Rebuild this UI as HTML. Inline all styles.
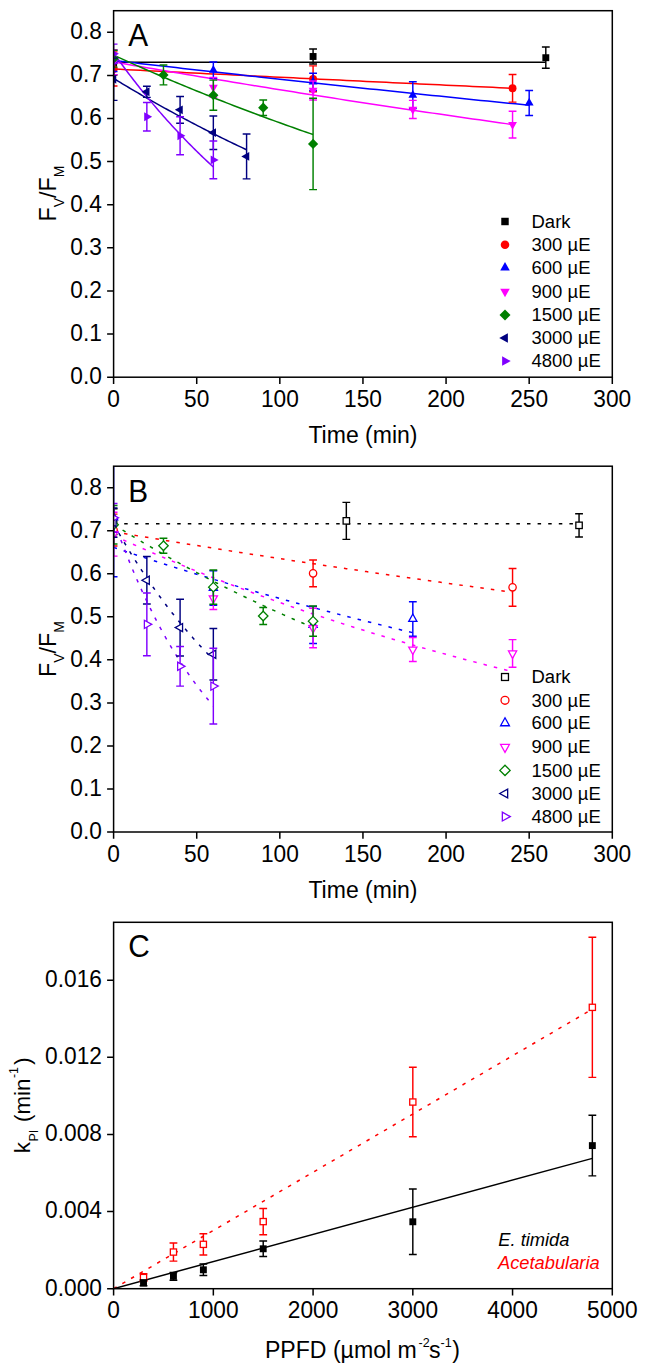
<!DOCTYPE html>
<html><head><meta charset="utf-8"><title>Photoinhibition kinetics</title>
<style>html,body{margin:0;padding:0;background:#fff;}body{width:646px;height:1371px;overflow:hidden;font-family:"Liberation Sans",sans-serif;}svg{display:block;}</style>
</head><body>
<svg width="646" height="1371" viewBox="0 0 646 1371" font-family="Liberation Sans, sans-serif">
<defs><clipPath id="clipA"><rect x="113.6" y="10.7" width="498.70" height="366.50"/></clipPath><clipPath id="clipB"><rect x="113.6" y="466.2" width="498.70" height="365.80"/></clipPath><clipPath id="clipC"><rect x="113.6" y="922.3" width="498.70" height="366.40"/></clipPath></defs>
<rect width="646" height="1371" fill="#fff"/>
<path d="M107.10,377.20H113.60M107.10,334.08H113.60M107.10,290.96H113.60M107.10,247.85H113.60M107.10,204.73H113.60M107.10,161.61H113.60M107.10,118.49H113.60M107.10,75.38H113.60M107.10,32.26H113.60M113.60,377.20V383.90M196.72,377.20V383.90M279.83,377.20V383.90M362.95,377.20V383.90M446.07,377.20V383.90M529.18,377.20V383.90M612.30,377.20V383.90" stroke="#000" stroke-width="1.5" fill="none"/>
<text transform="translate(101.9,384.12) scale(1,1.03)" text-anchor="end" font-size="22.7">0.0</text>
<text transform="translate(101.9,341.00) scale(1,1.03)" text-anchor="end" font-size="22.7">0.1</text>
<text transform="translate(101.9,297.88) scale(1,1.03)" text-anchor="end" font-size="22.7">0.2</text>
<text transform="translate(101.9,254.76) scale(1,1.03)" text-anchor="end" font-size="22.7">0.3</text>
<text transform="translate(101.9,211.65) scale(1,1.03)" text-anchor="end" font-size="22.7">0.4</text>
<text transform="translate(101.9,168.53) scale(1,1.03)" text-anchor="end" font-size="22.7">0.5</text>
<text transform="translate(101.9,125.41) scale(1,1.03)" text-anchor="end" font-size="22.7">0.6</text>
<text transform="translate(101.9,82.29) scale(1,1.03)" text-anchor="end" font-size="22.7">0.7</text>
<text transform="translate(101.9,39.18) scale(1,1.03)" text-anchor="end" font-size="22.7">0.8</text>
<text transform="translate(113.60,406.82) scale(1,1.03)" text-anchor="middle" font-size="22.7">0</text>
<text transform="translate(196.72,406.82) scale(1,1.03)" text-anchor="middle" font-size="22.7">50</text>
<text transform="translate(279.83,406.82) scale(1,1.03)" text-anchor="middle" font-size="22.7">100</text>
<text transform="translate(362.95,406.82) scale(1,1.03)" text-anchor="middle" font-size="22.7">150</text>
<text transform="translate(446.07,406.82) scale(1,1.03)" text-anchor="middle" font-size="22.7">200</text>
<text transform="translate(529.18,406.82) scale(1,1.03)" text-anchor="middle" font-size="22.7">250</text>
<text transform="translate(612.30,406.82) scale(1,1.03)" text-anchor="middle" font-size="22.7">300</text>
<g clip-path="url(#clipA)">
<path d="M113.60,62.35 L120.80,62.35 L128.01,62.35 L135.21,62.35 L142.41,62.35 L149.62,62.35 L156.82,62.35 L164.02,62.35 L171.23,62.35 L178.43,62.35 L185.63,62.35 L192.84,62.35 L200.04,62.35 L207.24,62.35 L214.45,62.35 L221.65,62.35 L228.86,62.35 L236.06,62.35 L243.26,62.35 L250.47,62.35 L257.67,62.35 L264.87,62.35 L272.08,62.35 L279.28,62.35 L286.48,62.35 L293.69,62.35 L300.89,62.35 L308.09,62.35 L315.30,62.35 L322.50,62.35 L329.70,62.35 L336.91,62.35 L344.11,62.35 L351.31,62.35 L358.52,62.35 L365.72,62.35 L372.92,62.35 L380.13,62.35 L387.33,62.35 L394.53,62.35 L401.74,62.35 L408.94,62.35 L416.14,62.35 L423.35,62.35 L430.55,62.35 L437.75,62.35 L444.96,62.35 L452.16,62.35 L459.37,62.35 L466.57,62.35 L473.77,62.35 L480.98,62.35 L488.18,62.35 L495.38,62.35 L502.59,62.35 L509.79,62.35 L516.99,62.35 L524.20,62.35 L531.40,62.35 L538.60,62.35 L545.81,62.35" stroke="#000000" stroke-width="1.5" fill="none"/>
<path d="M113.60,69.04 L120.25,69.37 L126.90,69.70 L133.55,70.03 L140.20,70.36 L146.85,70.69 L153.50,71.02 L160.15,71.35 L166.79,71.68 L173.44,72.01 L180.09,72.34 L186.74,72.66 L193.39,72.99 L200.04,73.32 L206.69,73.65 L213.34,73.97 L219.99,74.30 L226.64,74.62 L233.29,74.95 L239.94,75.27 L246.59,75.60 L253.24,75.92 L259.89,76.25 L266.53,76.57 L273.18,76.89 L279.83,77.22 L286.48,77.54 L293.13,77.86 L299.78,78.18 L306.43,78.51 L313.08,78.83 L319.73,79.15 L326.38,79.47 L333.03,79.79 L339.68,80.11 L346.33,80.43 L352.98,80.75 L359.63,81.07 L366.27,81.38 L372.92,81.70 L379.57,82.02 L386.22,82.34 L392.87,82.65 L399.52,82.97 L406.17,83.29 L412.82,83.60 L419.47,83.92 L426.12,84.24 L432.77,84.55 L439.42,84.86 L446.07,85.18 L452.72,85.49 L459.37,85.81 L466.01,86.12 L472.66,86.43 L479.31,86.75 L485.96,87.06 L492.61,87.37 L499.26,87.68 L505.91,87.99 L512.56,88.30" stroke="#ff0000" stroke-width="1.5" fill="none"/>
<path d="M113.60,60.46 L120.53,61.26 L127.45,62.06 L134.38,62.86 L141.31,63.66 L148.23,64.46 L155.16,65.25 L162.08,66.04 L169.01,66.83 L175.94,67.62 L182.86,68.41 L189.79,69.19 L196.72,69.97 L203.64,70.75 L210.57,71.53 L217.50,72.31 L224.42,73.08 L231.35,73.85 L238.27,74.62 L245.20,75.39 L252.13,76.16 L259.05,76.92 L265.98,77.68 L272.91,78.44 L279.83,79.20 L286.76,79.96 L293.69,80.71 L300.61,81.47 L307.54,82.22 L314.47,82.96 L321.39,83.71 L328.32,84.46 L335.24,85.20 L342.17,85.94 L349.10,86.68 L356.02,87.42 L362.95,88.15 L369.88,88.89 L376.80,89.62 L383.73,90.35 L390.66,91.08 L397.58,91.80 L404.51,92.53 L411.43,93.25 L418.36,93.97 L425.29,94.69 L432.21,95.41 L439.14,96.12 L446.07,96.84 L452.99,97.55 L459.92,98.26 L466.85,98.97 L473.77,99.67 L480.70,100.38 L487.62,101.08 L494.55,101.78 L501.48,102.48 L508.40,103.18 L515.33,103.87 L522.26,104.57 L529.18,105.26" stroke="#0000ff" stroke-width="1.5" fill="none"/>
<path d="M113.60,61.92 L120.25,63.09 L126.90,64.24 L133.55,65.40 L140.20,66.55 L146.85,67.69 L153.50,68.83 L160.15,69.97 L166.79,71.10 L173.44,72.23 L180.09,73.35 L186.74,74.47 L193.39,75.59 L200.04,76.70 L206.69,77.81 L213.34,78.91 L219.99,80.01 L226.64,81.10 L233.29,82.19 L239.94,83.28 L246.59,84.37 L253.24,85.44 L259.89,86.52 L266.53,87.59 L273.18,88.66 L279.83,89.72 L286.48,90.78 L293.13,91.84 L299.78,92.89 L306.43,93.94 L313.08,94.98 L319.73,96.02 L326.38,97.06 L333.03,98.09 L339.68,99.12 L346.33,100.14 L352.98,101.16 L359.63,102.18 L366.27,103.19 L372.92,104.20 L379.57,105.21 L386.22,106.21 L392.87,107.21 L399.52,108.20 L406.17,109.20 L412.82,110.18 L419.47,111.17 L426.12,112.15 L432.77,113.12 L439.42,114.10 L446.07,115.07 L452.72,116.03 L459.37,117.00 L466.01,117.96 L472.66,118.91 L479.31,119.86 L485.96,120.81 L492.61,121.76 L499.26,122.70 L505.91,123.63 L512.56,124.57" stroke="#ff00ff" stroke-width="1.5" fill="none"/>
<path d="M113.60,55.11 L116.92,56.63 L120.25,58.14 L123.57,59.64 L126.90,61.14 L130.22,62.62 L133.55,64.10 L136.87,65.58 L140.20,67.05 L143.52,68.51 L146.85,69.96 L150.17,71.41 L153.50,72.85 L156.82,74.28 L160.15,75.71 L163.47,77.13 L166.79,78.54 L170.12,79.95 L173.44,81.35 L176.77,82.74 L180.09,84.13 L183.42,85.51 L186.74,86.88 L190.07,88.25 L193.39,89.61 L196.72,90.96 L200.04,92.31 L203.37,93.65 L206.69,94.99 L210.02,96.31 L213.34,97.64 L216.66,98.95 L219.99,100.26 L223.31,101.57 L226.64,102.87 L229.96,104.16 L233.29,105.44 L236.61,106.72 L239.94,108.00 L243.26,109.26 L246.59,110.53 L249.91,111.78 L253.24,113.03 L256.56,114.28 L259.89,115.51 L263.21,116.75 L266.53,117.97 L269.86,119.19 L273.18,120.41 L276.51,121.62 L279.83,122.82 L283.16,124.02 L286.48,125.21 L289.81,126.40 L293.13,127.58 L296.46,128.75 L299.78,129.92 L303.11,131.09 L306.43,132.25 L309.76,133.40 L313.08,134.55" stroke="#008000" stroke-width="1.5" fill="none"/>
<path d="M113.60,78.39 L115.82,79.75 L118.03,81.10 L120.25,82.44 L122.47,83.78 L124.68,85.11 L126.90,86.44 L129.12,87.75 L131.33,89.07 L133.55,90.38 L135.76,91.68 L137.98,92.97 L140.20,94.26 L142.41,95.54 L144.63,96.82 L146.85,98.09 L149.06,99.36 L151.28,100.62 L153.50,101.88 L155.71,103.12 L157.93,104.37 L160.15,105.60 L162.36,106.84 L164.58,108.06 L166.79,109.28 L169.01,110.50 L171.23,111.71 L173.44,112.91 L175.66,114.11 L177.88,115.31 L180.09,116.49 L182.31,117.68 L184.53,118.85 L186.74,120.03 L188.96,121.19 L191.18,122.35 L193.39,123.51 L195.61,124.66 L197.82,125.81 L200.04,126.95 L202.26,128.08 L204.47,129.21 L206.69,130.34 L208.91,131.46 L211.12,132.57 L213.34,133.68 L215.56,134.79 L217.77,135.89 L219.99,136.98 L222.21,138.07 L224.42,139.16 L226.64,140.24 L228.86,141.31 L231.07,142.38 L233.29,143.45 L235.50,144.51 L237.72,145.56 L239.94,146.61 L242.15,147.66 L244.37,148.70 L246.59,149.74" stroke="#000080" stroke-width="1.5" fill="none"/>
<path d="M113.60,53.04 L115.26,55.37 L116.92,57.69 L118.59,59.99 L120.25,62.27 L121.91,64.53 L123.57,66.78 L125.24,69.02 L126.90,71.23 L128.56,73.44 L130.22,75.62 L131.89,77.79 L133.55,79.94 L135.21,82.08 L136.87,84.21 L138.53,86.31 L140.20,88.41 L141.86,90.48 L143.52,92.55 L145.18,94.59 L146.85,96.63 L148.51,98.65 L150.17,100.65 L151.83,102.64 L153.50,104.61 L155.16,106.58 L156.82,108.52 L158.48,110.46 L160.15,112.37 L161.81,114.28 L163.47,116.17 L165.13,118.05 L166.79,119.91 L168.46,121.76 L170.12,123.60 L171.78,125.43 L173.44,127.24 L175.11,129.04 L176.77,130.82 L178.43,132.59 L180.09,134.35 L181.76,136.10 L183.42,137.83 L185.08,139.56 L186.74,141.27 L188.40,142.96 L190.07,144.65 L191.73,146.32 L193.39,147.98 L195.05,149.63 L196.72,151.27 L198.38,152.89 L200.04,154.51 L201.70,156.11 L203.37,157.70 L205.03,159.28 L206.69,160.85 L208.35,162.40 L210.02,163.95 L211.68,165.48 L213.34,167.01" stroke="#8000ff" stroke-width="1.5" fill="none"/>
<path d="M113.60,57.70V74.95M109.70,57.70H117.50M109.70,74.95H117.50" stroke="#000000" stroke-width="1.45" fill="none"/>
<rect x="110.15" y="62.87" width="6.90" height="6.90" fill="#000000"/>
<path d="M313.08,48.99V63.99M309.18,48.99H316.98M309.18,63.99H316.98" stroke="#000000" stroke-width="1.45" fill="none"/>
<rect x="309.63" y="53.04" width="6.90" height="6.90" fill="#000000"/>
<path d="M545.81,47.09V68.31M541.91,47.09H549.71M541.91,68.31H549.71" stroke="#000000" stroke-width="1.45" fill="none"/>
<rect x="542.36" y="54.25" width="6.90" height="6.90" fill="#000000"/>
<path d="M113.60,51.88V85.94M109.70,51.88H117.50M109.70,85.94H117.50" stroke="#ff0000" stroke-width="1.45" fill="none"/>
<circle cx="113.60" cy="68.91" r="3.95" fill="#ff0000"/>
<path d="M313.08,65.89V91.76M309.18,65.89H316.98M309.18,91.76H316.98" stroke="#ff0000" stroke-width="1.45" fill="none"/>
<circle cx="313.08" cy="78.83" r="3.95" fill="#ff0000"/>
<path d="M512.56,74.51V102.11M508.66,74.51H516.46M508.66,102.11H516.46" stroke="#ff0000" stroke-width="1.45" fill="none"/>
<circle cx="512.56" cy="88.31" r="3.95" fill="#ff0000"/>
<path d="M113.60,50.24V71.45M109.70,50.24H117.50M109.70,71.45H117.50" stroke="#0000ff" stroke-width="1.45" fill="none"/>
<path d="M113.60,55.55 L118.00,63.50 L109.20,63.50Z" fill="#0000ff" stroke-linejoin="miter"/>
<path d="M213.34,62.01V78.39M209.44,62.01H217.24M209.44,78.39H217.24" stroke="#0000ff" stroke-width="1.45" fill="none"/>
<path d="M213.34,64.90 L217.74,72.85 L208.94,72.85Z" fill="#0000ff" stroke-linejoin="miter"/>
<path d="M313.08,73.22V90.47M309.18,73.22H316.98M309.18,90.47H316.98" stroke="#0000ff" stroke-width="1.45" fill="none"/>
<path d="M313.08,76.54 L317.48,84.49 L308.68,84.49Z" fill="#0000ff" stroke-linejoin="miter"/>
<path d="M412.82,81.84V108.58M408.92,81.84H416.72M408.92,108.58H416.72" stroke="#0000ff" stroke-width="1.45" fill="none"/>
<path d="M412.82,89.91 L417.22,97.86 L408.42,97.86Z" fill="#0000ff" stroke-linejoin="miter"/>
<path d="M529.18,90.47V115.48M525.28,90.47H533.08M525.28,115.48H533.08" stroke="#0000ff" stroke-width="1.45" fill="none"/>
<path d="M529.18,97.67 L533.58,105.62 L524.78,105.62Z" fill="#0000ff" stroke-linejoin="miter"/>
<path d="M113.60,49.64V74.64M109.70,49.64H117.50M109.70,74.64H117.50" stroke="#ff00ff" stroke-width="1.45" fill="none"/>
<path d="M113.60,67.44 L118.00,59.49 L109.20,59.49Z" fill="#ff00ff" stroke-linejoin="miter"/>
<path d="M213.34,77.53V97.37M209.44,77.53H217.24M209.44,97.37H217.24" stroke="#ff00ff" stroke-width="1.45" fill="none"/>
<path d="M213.34,92.75 L217.74,84.80 L208.94,84.80Z" fill="#ff00ff" stroke-linejoin="miter"/>
<path d="M313.08,80.98V99.95M309.18,80.98H316.98M309.18,99.95H316.98" stroke="#ff00ff" stroke-width="1.45" fill="none"/>
<path d="M313.08,95.77 L317.48,87.82 L308.68,87.82Z" fill="#ff00ff" stroke-linejoin="miter"/>
<path d="M412.82,100.38V118.49M408.92,100.38H416.72M408.92,118.49H416.72" stroke="#ff00ff" stroke-width="1.45" fill="none"/>
<path d="M412.82,114.74 L417.22,106.79 L408.42,106.79Z" fill="#ff00ff" stroke-linejoin="miter"/>
<path d="M512.56,111.16V137.90M508.66,111.16H516.46M508.66,137.90H516.46" stroke="#ff00ff" stroke-width="1.45" fill="none"/>
<path d="M512.56,129.83 L516.96,121.88 L508.16,121.88Z" fill="#ff00ff" stroke-linejoin="miter"/>
<path d="M113.60,50.33V67.14M109.70,50.33H117.50M109.70,67.14H117.50" stroke="#008000" stroke-width="1.45" fill="none"/>
<path d="M113.60,53.63 L118.70,58.73 L113.60,63.83 L108.50,58.73Z" fill="#008000" stroke-linejoin="miter"/>
<path d="M163.47,65.03V84.86M159.57,65.03H167.37M159.57,84.86H167.37" stroke="#008000" stroke-width="1.45" fill="none"/>
<path d="M163.47,69.85 L168.57,74.95 L163.47,80.05 L158.37,74.95Z" fill="#008000" stroke-linejoin="miter"/>
<path d="M213.34,80.12V110.30M209.44,80.12H217.24M209.44,110.30H217.24" stroke="#008000" stroke-width="1.45" fill="none"/>
<path d="M213.34,90.11 L218.44,95.21 L213.34,100.31 L208.24,95.21Z" fill="#008000" stroke-linejoin="miter"/>
<path d="M263.21,99.95V115.48M259.31,99.95H267.11M259.31,115.48H267.11" stroke="#008000" stroke-width="1.45" fill="none"/>
<path d="M263.21,102.61 L268.31,107.71 L263.21,112.81 L258.11,107.71Z" fill="#008000" stroke-linejoin="miter"/>
<path d="M313.08,98.23V189.64M309.18,98.23H316.98M309.18,189.64H316.98" stroke="#008000" stroke-width="1.45" fill="none"/>
<path d="M313.08,138.83 L318.18,143.93 L313.08,149.03 L307.98,143.93Z" fill="#008000" stroke-linejoin="miter"/>
<path d="M113.60,58.13V100.38M109.70,58.13H117.50M109.70,100.38H117.50" stroke="#000080" stroke-width="1.45" fill="none"/>
<path d="M108.30,79.26 L116.25,74.86 L116.25,83.66Z" fill="#000080" stroke-linejoin="miter"/>
<path d="M146.85,86.16V97.37M142.95,86.16H150.75M142.95,97.37H150.75" stroke="#000080" stroke-width="1.45" fill="none"/>
<path d="M141.55,91.76 L149.50,87.36 L149.50,96.16Z" fill="#000080" stroke-linejoin="miter"/>
<path d="M180.09,96.50V123.24M176.19,96.50H183.99M176.19,123.24H183.99" stroke="#000080" stroke-width="1.45" fill="none"/>
<path d="M174.79,109.87 L182.74,105.47 L182.74,114.27Z" fill="#000080" stroke-linejoin="miter"/>
<path d="M213.34,115.91V149.54M209.44,115.91H217.24M209.44,149.54H217.24" stroke="#000080" stroke-width="1.45" fill="none"/>
<path d="M208.04,132.72 L215.99,128.32 L215.99,137.12Z" fill="#000080" stroke-linejoin="miter"/>
<path d="M246.59,134.02V178.86M242.69,134.02H250.49M242.69,178.86H250.49" stroke="#000080" stroke-width="1.45" fill="none"/>
<path d="M241.29,156.44 L249.24,152.04 L249.24,160.84Z" fill="#000080" stroke-linejoin="miter"/>
<path d="M113.60,44.12V63.52M109.70,44.12H117.50M109.70,63.52H117.50" stroke="#8000ff" stroke-width="1.45" fill="none"/>
<path d="M118.90,53.82 L110.95,49.42 L110.95,58.22Z" fill="#8000ff" stroke-linejoin="miter"/>
<path d="M146.85,102.54V131.00M142.95,102.54H150.75M142.95,131.00H150.75" stroke="#8000ff" stroke-width="1.45" fill="none"/>
<path d="M152.15,116.77 L144.20,112.37 L144.20,121.17Z" fill="#8000ff" stroke-linejoin="miter"/>
<path d="M180.09,116.77V154.71M176.19,116.77H183.99M176.19,154.71H183.99" stroke="#8000ff" stroke-width="1.45" fill="none"/>
<path d="M185.39,135.74 L177.44,131.34 L177.44,140.14Z" fill="#8000ff" stroke-linejoin="miter"/>
<path d="M213.34,141.09V178.69M209.44,141.09H217.24M209.44,178.69H217.24" stroke="#8000ff" stroke-width="1.45" fill="none"/>
<path d="M218.64,159.89 L210.69,155.49 L210.69,164.29Z" fill="#8000ff" stroke-linejoin="miter"/>
</g>
<rect x="113.6" y="10.7" width="498.70" height="366.50" fill="none" stroke="#000" stroke-width="1.5"/>
<rect x="501.27" y="217.77" width="7.45" height="7.45" fill="#000000"/>
<text transform="translate(531.5,227.80) scale(1,1.01)" font-size="18.5">Dark</text>
<circle cx="505.00" cy="244.80" r="4.27" fill="#ff0000"/>
<text transform="translate(531.5,251.10) scale(1,1.01)" font-size="18.5">300 µE</text>
<path d="M505.00,261.88 L509.75,270.46 L500.25,270.46Z" fill="#0000ff" stroke-linejoin="miter"/>
<text transform="translate(531.5,273.90) scale(1,1.01)" font-size="18.5">600 µE</text>
<path d="M505.00,297.32 L509.75,288.74 L500.25,288.74Z" fill="#ff00ff" stroke-linejoin="miter"/>
<text transform="translate(531.5,297.90) scale(1,1.01)" font-size="18.5">900 µE</text>
<path d="M505.00,309.39 L510.51,314.90 L505.00,320.41 L499.49,314.90Z" fill="#008000" stroke-linejoin="miter"/>
<text transform="translate(531.5,321.20) scale(1,1.01)" font-size="18.5">1500 µE</text>
<path d="M499.28,338.00 L507.86,333.25 L507.86,342.75Z" fill="#000080" stroke-linejoin="miter"/>
<text transform="translate(531.5,344.30) scale(1,1.01)" font-size="18.5">3000 µE</text>
<path d="M510.72,361.10 L502.14,356.35 L502.14,365.85Z" fill="#8000ff" stroke-linejoin="miter"/>
<text transform="translate(531.5,367.40) scale(1,1.01)" font-size="18.5">4800 µE</text>
<text transform="translate(128.2,46.10) scale(1,1.04)" font-size="29.8">A</text>
<text x="362.95" y="443.20" text-anchor="middle" font-size="23.0">Time (min)</text>
<text transform="translate(55.5,221.40) rotate(-90)" font-size="23.2">F<tspan font-size="14" dy="8.3">V</tspan><tspan dy="-8.3">/F</tspan><tspan font-size="14" dy="8.3">M</tspan></text>
<path d="M107.10,832.00H113.60M107.10,788.96H113.60M107.10,745.93H113.60M107.10,702.89H113.60M107.10,659.86H113.60M107.10,616.82H113.60M107.10,573.79H113.60M107.10,530.75H113.60M107.10,487.72H113.60M113.60,832.00V838.70M196.72,832.00V838.70M279.83,832.00V838.70M362.95,832.00V838.70M446.07,832.00V838.70M529.18,832.00V838.70M612.30,832.00V838.70" stroke="#000" stroke-width="1.5" fill="none"/>
<text transform="translate(101.9,838.92) scale(1,1.03)" text-anchor="end" font-size="22.7">0.0</text>
<text transform="translate(101.9,795.88) scale(1,1.03)" text-anchor="end" font-size="22.7">0.1</text>
<text transform="translate(101.9,752.85) scale(1,1.03)" text-anchor="end" font-size="22.7">0.2</text>
<text transform="translate(101.9,709.81) scale(1,1.03)" text-anchor="end" font-size="22.7">0.3</text>
<text transform="translate(101.9,666.78) scale(1,1.03)" text-anchor="end" font-size="22.7">0.4</text>
<text transform="translate(101.9,623.74) scale(1,1.03)" text-anchor="end" font-size="22.7">0.5</text>
<text transform="translate(101.9,580.71) scale(1,1.03)" text-anchor="end" font-size="22.7">0.6</text>
<text transform="translate(101.9,537.67) scale(1,1.03)" text-anchor="end" font-size="22.7">0.7</text>
<text transform="translate(101.9,494.63) scale(1,1.03)" text-anchor="end" font-size="22.7">0.8</text>
<text transform="translate(113.60,861.62) scale(1,1.03)" text-anchor="middle" font-size="22.7">0</text>
<text transform="translate(196.72,861.62) scale(1,1.03)" text-anchor="middle" font-size="22.7">50</text>
<text transform="translate(279.83,861.62) scale(1,1.03)" text-anchor="middle" font-size="22.7">100</text>
<text transform="translate(362.95,861.62) scale(1,1.03)" text-anchor="middle" font-size="22.7">150</text>
<text transform="translate(446.07,861.62) scale(1,1.03)" text-anchor="middle" font-size="22.7">200</text>
<text transform="translate(529.18,861.62) scale(1,1.03)" text-anchor="middle" font-size="22.7">250</text>
<text transform="translate(612.30,861.62) scale(1,1.03)" text-anchor="middle" font-size="22.7">300</text>
<g clip-path="url(#clipB)">
<path d="M113.60,523.87 L121.36,523.87 L129.12,523.87 L136.87,523.87 L144.63,523.87 L152.39,523.87 L160.15,523.87 L167.90,523.87 L175.66,523.87 L183.42,523.87 L191.18,523.87 L198.93,523.87 L206.69,523.87 L214.45,523.87 L222.21,523.87 L229.96,523.87 L237.72,523.87 L245.48,523.87 L253.24,523.87 L260.99,523.87 L268.75,523.87 L276.51,523.87 L284.27,523.87 L292.02,523.87 L299.78,523.87 L307.54,523.87 L315.30,523.87 L323.05,523.87 L330.81,523.87 L338.57,523.87 L346.33,523.87 L354.08,523.87 L361.84,523.87 L369.60,523.87 L377.36,523.87 L385.11,523.87 L392.87,523.87 L400.63,523.87 L408.39,523.87 L416.14,523.87 L423.90,523.87 L431.66,523.87 L439.42,523.87 L447.17,523.87 L454.93,523.87 L462.69,523.87 L470.45,523.87 L478.21,523.87 L485.96,523.87 L493.72,523.87 L501.48,523.87 L509.24,523.87 L516.99,523.87 L524.75,523.87 L532.51,523.87 L540.27,523.87 L548.02,523.87 L555.78,523.87 L563.54,523.87 L571.30,523.87 L579.05,523.87" stroke="#000000" stroke-width="1.5" fill="none" stroke-dasharray="3.5 7.1"/>
<path d="M113.60,531.79 L120.25,532.91 L126.90,534.03 L133.55,535.14 L140.20,536.25 L146.85,537.35 L153.50,538.45 L160.15,539.55 L166.79,540.64 L173.44,541.73 L180.09,542.82 L186.74,543.90 L193.39,544.98 L200.04,546.05 L206.69,547.12 L213.34,548.18 L219.99,549.24 L226.64,550.30 L233.29,551.35 L239.94,552.40 L246.59,553.44 L253.24,554.49 L259.89,555.52 L266.53,556.56 L273.18,557.59 L279.83,558.61 L286.48,559.63 L293.13,560.65 L299.78,561.66 L306.43,562.67 L313.08,563.68 L319.73,564.68 L326.38,565.68 L333.03,566.68 L339.68,567.67 L346.33,568.66 L352.98,569.64 L359.63,570.62 L366.27,571.60 L372.92,572.57 L379.57,573.54 L386.22,574.51 L392.87,575.47 L399.52,576.43 L406.17,577.38 L412.82,578.33 L419.47,579.28 L426.12,580.23 L432.77,581.17 L439.42,582.11 L446.07,583.04 L452.72,583.97 L459.37,584.90 L466.01,585.82 L472.66,586.74 L479.31,587.66 L485.96,588.57 L492.61,589.48 L499.26,590.39 L505.91,591.29 L512.56,592.19" stroke="#ff0000" stroke-width="1.5" fill="none" stroke-dasharray="3.5 7.1"/>
<path d="M113.60,547.36 L118.59,549.05 L123.57,550.73 L128.56,552.39 L133.55,554.05 L138.53,555.69 L143.52,557.33 L148.51,558.96 L153.50,560.57 L158.48,562.18 L163.47,563.78 L168.46,565.37 L173.44,566.95 L178.43,568.52 L183.42,570.08 L188.40,571.63 L193.39,573.17 L198.38,574.70 L203.37,576.23 L208.35,577.74 L213.34,579.25 L218.33,580.74 L223.31,582.23 L228.30,583.71 L233.29,585.18 L238.27,586.64 L243.26,588.10 L248.25,589.54 L253.24,590.98 L258.22,592.41 L263.21,593.82 L268.20,595.23 L273.18,596.64 L278.17,598.03 L283.16,599.42 L288.14,600.79 L293.13,602.16 L298.12,603.52 L303.11,604.88 L308.09,606.22 L313.08,607.56 L318.07,608.89 L323.05,610.21 L328.04,611.52 L333.03,612.83 L338.01,614.13 L343.00,615.42 L347.99,616.70 L352.98,617.98 L357.96,619.24 L362.95,620.50 L367.94,621.76 L372.92,623.00 L377.91,624.24 L382.90,625.47 L387.88,626.69 L392.87,627.91 L397.86,629.12 L402.85,630.32 L407.83,631.51 L412.82,632.70" stroke="#0000ff" stroke-width="1.5" fill="none" stroke-dasharray="3.5 7.1"/>
<path d="M113.60,535.57 L120.25,538.59 L126.90,541.58 L133.55,544.54 L140.20,547.47 L146.85,550.37 L153.50,553.24 L160.15,556.08 L166.79,558.89 L173.44,561.67 L180.09,564.42 L186.74,567.15 L193.39,569.85 L200.04,572.52 L206.69,575.16 L213.34,577.78 L219.99,580.37 L226.64,582.93 L233.29,585.47 L239.94,587.98 L246.59,590.47 L253.24,592.93 L259.89,595.36 L266.53,597.78 L273.18,600.16 L279.83,602.52 L286.48,604.86 L293.13,607.18 L299.78,609.47 L306.43,611.73 L313.08,613.98 L319.73,616.20 L326.38,618.40 L333.03,620.57 L339.68,622.73 L346.33,624.86 L352.98,626.97 L359.63,629.06 L366.27,631.13 L372.92,633.17 L379.57,635.20 L386.22,637.20 L392.87,639.19 L399.52,641.15 L406.17,643.10 L412.82,645.02 L419.47,646.92 L426.12,648.81 L432.77,650.68 L439.42,652.52 L446.07,654.35 L452.72,656.16 L459.37,657.95 L466.01,659.73 L472.66,661.48 L479.31,663.22 L485.96,664.94 L492.61,666.64 L499.26,668.33 L505.91,669.99 L512.56,671.64" stroke="#ff00ff" stroke-width="1.5" fill="none" stroke-dasharray="3.5 7.1"/>
<path d="M113.60,524.51 L116.92,526.60 L120.25,528.67 L123.57,530.72 L126.90,532.76 L130.22,534.79 L133.55,536.81 L136.87,538.81 L140.20,540.79 L143.52,542.77 L146.85,544.73 L150.17,546.67 L153.50,548.61 L156.82,550.53 L160.15,552.44 L163.47,554.33 L166.79,556.21 L170.12,558.08 L173.44,559.94 L176.77,561.78 L180.09,563.61 L183.42,565.43 L186.74,567.24 L190.07,569.03 L193.39,570.81 L196.72,572.58 L200.04,574.34 L203.37,576.09 L206.69,577.82 L210.02,579.54 L213.34,581.26 L216.66,582.96 L219.99,584.64 L223.31,586.32 L226.64,587.98 L229.96,589.64 L233.29,591.28 L236.61,592.91 L239.94,594.53 L243.26,596.14 L246.59,597.74 L249.91,599.33 L253.24,600.90 L256.56,602.47 L259.89,604.03 L263.21,605.57 L266.53,607.11 L269.86,608.63 L273.18,610.14 L276.51,611.65 L279.83,613.14 L283.16,614.62 L286.48,616.10 L289.81,617.56 L293.13,619.01 L296.46,620.46 L299.78,621.89 L303.11,623.31 L306.43,624.73 L309.76,626.13 L313.08,627.53" stroke="#008000" stroke-width="1.5" fill="none" stroke-dasharray="3.5 7.1"/>
<path d="M113.60,523.87 L115.26,526.84 L116.92,529.78 L118.59,532.69 L120.25,535.57 L121.91,538.43 L123.57,541.25 L125.24,544.05 L126.90,546.83 L128.56,549.58 L130.22,552.30 L131.89,554.99 L133.55,557.66 L135.21,560.30 L136.87,562.92 L138.53,565.51 L140.20,568.08 L141.86,570.62 L143.52,573.14 L145.18,575.63 L146.85,578.10 L148.51,580.55 L150.17,582.97 L151.83,585.37 L153.50,587.75 L155.16,590.10 L156.82,592.43 L158.48,594.74 L160.15,597.02 L161.81,599.29 L163.47,601.53 L165.13,603.75 L166.79,605.95 L168.46,608.12 L170.12,610.28 L171.78,612.42 L173.44,614.53 L175.11,616.63 L176.77,618.70 L178.43,620.76 L180.09,622.79 L181.76,624.81 L183.42,626.80 L185.08,628.78 L186.74,630.74 L188.40,632.68 L190.07,634.60 L191.73,636.50 L193.39,638.38 L195.05,640.25 L196.72,642.09 L198.38,643.92 L200.04,645.73 L201.70,647.53 L203.37,649.31 L205.03,651.07 L206.69,652.81 L208.35,654.54 L210.02,656.25 L211.68,657.94 L213.34,659.61" stroke="#000080" stroke-width="1.5" fill="none" stroke-dasharray="3.5 7.1"/>
<path d="M113.60,519.99 L115.26,524.67 L116.92,529.28 L118.59,533.81 L120.25,538.28 L121.91,542.68 L123.57,547.02 L125.24,551.29 L126.90,555.50 L128.56,559.64 L130.22,563.72 L131.89,567.74 L133.55,571.70 L135.21,575.60 L136.87,579.45 L138.53,583.23 L140.20,586.96 L141.86,590.63 L143.52,594.25 L145.18,597.81 L146.85,601.32 L148.51,604.78 L150.17,608.18 L151.83,611.54 L153.50,614.84 L155.16,618.10 L156.82,621.30 L158.48,624.46 L160.15,627.57 L161.81,630.63 L163.47,633.65 L165.13,636.62 L166.79,639.55 L168.46,642.44 L170.12,645.28 L171.78,648.08 L173.44,650.83 L175.11,653.55 L176.77,656.22 L178.43,658.86 L180.09,661.45 L181.76,664.01 L183.42,666.52 L185.08,669.00 L186.74,671.45 L188.40,673.85 L190.07,676.22 L191.73,678.56 L193.39,680.86 L195.05,683.12 L196.72,685.35 L198.38,687.55 L200.04,689.72 L201.70,691.85 L203.37,693.95 L205.03,696.02 L206.69,698.06 L208.35,700.06 L210.02,702.04 L211.68,703.99 L213.34,705.91" stroke="#8000ff" stroke-width="1.5" fill="none" stroke-dasharray="3.5 7.1"/>
<path d="M113.60,508.80V534.63M109.70,508.80H117.50M109.70,534.63H117.50" stroke="#000000" stroke-width="1.45" fill="none"/>
<rect x="110.39" y="518.51" width="6.42" height="6.42" fill="#fff" stroke="#000000" stroke-width="1.3"/>
<path d="M346.33,502.35V539.36M342.43,502.35H350.23M342.43,539.36H350.23" stroke="#000000" stroke-width="1.45" fill="none"/>
<rect x="343.12" y="517.65" width="6.42" height="6.42" fill="#fff" stroke="#000000" stroke-width="1.3"/>
<path d="M579.05,513.71V536.95M575.15,513.71H582.95M575.15,536.95H582.95" stroke="#000000" stroke-width="1.45" fill="none"/>
<rect x="575.84" y="522.12" width="6.42" height="6.42" fill="#fff" stroke="#000000" stroke-width="1.3"/>
<path d="M113.60,514.10V545.94M109.70,514.10H117.50M109.70,545.94H117.50" stroke="#ff0000" stroke-width="1.45" fill="none"/>
<circle cx="113.60" cy="530.02" r="3.67" fill="#fff" stroke="#ff0000" stroke-width="1.3"/>
<path d="M313.08,560.02V586.70M309.18,560.02H316.98M309.18,586.70H316.98" stroke="#ff0000" stroke-width="1.45" fill="none"/>
<circle cx="313.08" cy="573.36" r="3.67" fill="#fff" stroke="#ff0000" stroke-width="1.3"/>
<path d="M512.56,568.41V606.28M508.66,568.41H516.46M508.66,606.28H516.46" stroke="#ff0000" stroke-width="1.45" fill="none"/>
<circle cx="512.56" cy="587.34" r="3.67" fill="#fff" stroke="#ff0000" stroke-width="1.3"/>
<path d="M113.60,458.02V576.80M109.70,458.02H117.50M109.70,576.80H117.50" stroke="#0000ff" stroke-width="1.45" fill="none"/>
<path d="M113.60,512.48 L117.69,519.88 L109.51,519.88Z" fill="#fff" stroke="#0000ff" stroke-width="1.3" stroke-linejoin="miter"/>
<path d="M213.34,570.78V605.20M209.44,570.78H217.24M209.44,605.20H217.24" stroke="#0000ff" stroke-width="1.45" fill="none"/>
<path d="M213.34,583.06 L217.43,590.45 L209.25,590.45Z" fill="#fff" stroke="#0000ff" stroke-width="1.3" stroke-linejoin="miter"/>
<path d="M313.08,606.50V643.51M309.18,606.50H316.98M309.18,643.51H316.98" stroke="#0000ff" stroke-width="1.45" fill="none"/>
<path d="M313.08,620.07 L317.17,627.46 L308.99,627.46Z" fill="#fff" stroke="#0000ff" stroke-width="1.3" stroke-linejoin="miter"/>
<path d="M412.82,601.76V636.19M408.92,601.76H416.72M408.92,636.19H416.72" stroke="#0000ff" stroke-width="1.45" fill="none"/>
<path d="M412.82,614.05 L416.91,621.44 L408.73,621.44Z" fill="#fff" stroke="#0000ff" stroke-width="1.3" stroke-linejoin="miter"/>
<path d="M113.60,512.25V556.14M109.70,512.25H117.50M109.70,556.14H117.50" stroke="#ff00ff" stroke-width="1.45" fill="none"/>
<path d="M113.60,539.12 L117.69,531.73 L109.51,531.73Z" fill="#fff" stroke="#ff00ff" stroke-width="1.3" stroke-linejoin="miter"/>
<path d="M213.34,587.13V609.51M209.44,587.13H217.24M209.44,609.51H217.24" stroke="#ff00ff" stroke-width="1.45" fill="none"/>
<path d="M213.34,603.25 L217.43,595.85 L209.25,595.85Z" fill="#fff" stroke="#ff00ff" stroke-width="1.3" stroke-linejoin="miter"/>
<path d="M313.08,608.22V647.81M309.18,608.22H316.98M309.18,647.81H316.98" stroke="#ff00ff" stroke-width="1.45" fill="none"/>
<path d="M313.08,632.94 L317.17,625.55 L308.99,625.55Z" fill="#fff" stroke="#ff00ff" stroke-width="1.3" stroke-linejoin="miter"/>
<path d="M412.82,637.48V661.58M408.92,637.48H416.72M408.92,661.58H416.72" stroke="#ff00ff" stroke-width="1.45" fill="none"/>
<path d="M412.82,654.46 L416.91,647.07 L408.73,647.07Z" fill="#fff" stroke="#ff00ff" stroke-width="1.3" stroke-linejoin="miter"/>
<path d="M512.56,639.63V667.17M508.66,639.63H516.46M508.66,667.17H516.46" stroke="#ff00ff" stroke-width="1.45" fill="none"/>
<path d="M512.56,658.33 L516.65,650.94 L508.47,650.94Z" fill="#fff" stroke="#ff00ff" stroke-width="1.3" stroke-linejoin="miter"/>
<path d="M113.60,505.53V544.01M109.70,505.53H117.50M109.70,544.01H117.50" stroke="#008000" stroke-width="1.45" fill="none"/>
<path d="M113.60,520.03 L118.34,524.77 L113.60,529.51 L108.86,524.77Z" fill="#fff" stroke="#008000" stroke-width="1.3" stroke-linejoin="miter"/>
<path d="M163.47,538.33V553.30M159.57,538.33H167.37M159.57,553.30H167.37" stroke="#008000" stroke-width="1.45" fill="none"/>
<path d="M163.47,541.07 L168.21,545.82 L163.47,550.56 L158.73,545.82Z" fill="#fff" stroke="#008000" stroke-width="1.3" stroke-linejoin="miter"/>
<path d="M213.34,569.92V604.34M209.44,569.92H217.24M209.44,604.34H217.24" stroke="#008000" stroke-width="1.45" fill="none"/>
<path d="M213.34,582.39 L218.08,587.13 L213.34,591.87 L208.60,587.13Z" fill="#fff" stroke="#008000" stroke-width="1.3" stroke-linejoin="miter"/>
<path d="M263.21,607.48V624.44M259.31,607.48H267.11M259.31,624.44H267.11" stroke="#008000" stroke-width="1.45" fill="none"/>
<path d="M263.21,611.22 L267.95,615.96 L263.21,620.71 L258.47,615.96Z" fill="#fff" stroke="#008000" stroke-width="1.3" stroke-linejoin="miter"/>
<path d="M313.08,606.06V636.19M309.18,606.06H316.98M309.18,636.19H316.98" stroke="#008000" stroke-width="1.45" fill="none"/>
<path d="M313.08,616.38 L317.82,621.13 L313.08,625.87 L308.34,621.13Z" fill="#fff" stroke="#008000" stroke-width="1.3" stroke-linejoin="miter"/>
<path d="M113.60,507.94V537.21M109.70,507.94H117.50M109.70,537.21H117.50" stroke="#000080" stroke-width="1.45" fill="none"/>
<path d="M108.67,522.58 L116.06,518.48 L116.06,526.67Z" fill="#fff" stroke="#000080" stroke-width="1.3" stroke-linejoin="miter"/>
<path d="M146.85,556.57V603.91M142.95,556.57H150.75M142.95,603.91H150.75" stroke="#000080" stroke-width="1.45" fill="none"/>
<path d="M141.92,580.24 L149.31,576.15 L149.31,584.34Z" fill="#fff" stroke="#000080" stroke-width="1.3" stroke-linejoin="miter"/>
<path d="M180.09,599.18V655.99M176.19,599.18H183.99M176.19,655.99H183.99" stroke="#000080" stroke-width="1.45" fill="none"/>
<path d="M175.16,627.58 L182.56,623.49 L182.56,631.67Z" fill="#fff" stroke="#000080" stroke-width="1.3" stroke-linejoin="miter"/>
<path d="M213.34,628.44V680.09M209.44,628.44H217.24M209.44,680.09H217.24" stroke="#000080" stroke-width="1.45" fill="none"/>
<path d="M208.41,654.26 L215.80,650.17 L215.80,658.36Z" fill="#fff" stroke="#000080" stroke-width="1.3" stroke-linejoin="miter"/>
<path d="M113.60,503.43V532.26M109.70,503.43H117.50M109.70,532.26H117.50" stroke="#8000ff" stroke-width="1.45" fill="none"/>
<path d="M118.53,517.84 L111.14,513.75 L111.14,521.93Z" fill="#fff" stroke="#8000ff" stroke-width="1.3" stroke-linejoin="miter"/>
<path d="M146.85,592.94V655.77M142.95,592.94H150.75M142.95,655.77H150.75" stroke="#8000ff" stroke-width="1.45" fill="none"/>
<path d="M151.78,624.35 L144.38,620.26 L144.38,628.45Z" fill="#fff" stroke="#8000ff" stroke-width="1.3" stroke-linejoin="miter"/>
<path d="M180.09,646.52V686.11M176.19,646.52H183.99M176.19,686.11H183.99" stroke="#8000ff" stroke-width="1.45" fill="none"/>
<path d="M185.02,666.31 L177.63,662.22 L177.63,670.41Z" fill="#fff" stroke="#8000ff" stroke-width="1.3" stroke-linejoin="miter"/>
<path d="M213.34,648.24V723.98M209.44,648.24H217.24M209.44,723.98H217.24" stroke="#8000ff" stroke-width="1.45" fill="none"/>
<path d="M218.27,686.11 L210.88,682.02 L210.88,690.20Z" fill="#fff" stroke="#8000ff" stroke-width="1.3" stroke-linejoin="miter"/>
</g>
<rect x="113.6" y="466.2" width="498.70" height="365.80" fill="none" stroke="#000" stroke-width="1.5"/>
<rect x="501.53" y="673.53" width="6.93" height="6.93" fill="#fff" stroke="#000000" stroke-width="1.3"/>
<text transform="translate(531.5,683.30) scale(1,1.01)" font-size="18.5">Dark</text>
<circle cx="505.00" cy="700.30" r="3.97" fill="#fff" stroke="#ff0000" stroke-width="1.3"/>
<text transform="translate(531.5,706.60) scale(1,1.01)" font-size="18.5">300 µE</text>
<path d="M505.00,717.78 L509.42,725.76 L500.58,725.76Z" fill="#fff" stroke="#0000ff" stroke-width="1.3" stroke-linejoin="miter"/>
<text transform="translate(531.5,729.40) scale(1,1.01)" font-size="18.5">600 µE</text>
<path d="M505.00,752.42 L509.42,744.44 L500.58,744.44Z" fill="#fff" stroke="#ff00ff" stroke-width="1.3" stroke-linejoin="miter"/>
<text transform="translate(531.5,753.40) scale(1,1.01)" font-size="18.5">900 µE</text>
<path d="M505.00,765.28 L510.12,770.40 L505.00,775.52 L499.88,770.40Z" fill="#fff" stroke="#008000" stroke-width="1.3" stroke-linejoin="miter"/>
<text transform="translate(531.5,776.70) scale(1,1.01)" font-size="18.5">1500 µE</text>
<path d="M499.68,793.50 L507.66,789.08 L507.66,797.92Z" fill="#fff" stroke="#000080" stroke-width="1.3" stroke-linejoin="miter"/>
<text transform="translate(531.5,799.80) scale(1,1.01)" font-size="18.5">3000 µE</text>
<path d="M510.32,816.60 L502.34,812.18 L502.34,821.02Z" fill="#fff" stroke="#8000ff" stroke-width="1.3" stroke-linejoin="miter"/>
<text transform="translate(531.5,822.90) scale(1,1.01)" font-size="18.5">4800 µE</text>
<text transform="translate(128.2,501.60) scale(1,1.04)" font-size="29.8">B</text>
<text x="362.95" y="898.00" text-anchor="middle" font-size="23.0">Time (min)</text>
<text transform="translate(55.5,676.90) rotate(-90)" font-size="23.2">F<tspan font-size="14" dy="8.3">V</tspan><tspan dy="-8.3">/F</tspan><tspan font-size="14" dy="8.3">M</tspan></text>
<path d="M107.10,1288.70H113.60M107.10,1211.56H113.60M107.10,1134.43H113.60M107.10,1057.29H113.60M107.10,980.15H113.60M113.60,1288.70V1295.40M213.34,1288.70V1295.40M313.08,1288.70V1295.40M412.82,1288.70V1295.40M512.56,1288.70V1295.40M612.30,1288.70V1295.40" stroke="#000" stroke-width="1.5" fill="none"/>
<text transform="translate(101.9,1295.62) scale(1,1.03)" text-anchor="end" font-size="22.7">0.000</text>
<text transform="translate(101.9,1218.48) scale(1,1.03)" text-anchor="end" font-size="22.7">0.004</text>
<text transform="translate(101.9,1141.34) scale(1,1.03)" text-anchor="end" font-size="22.7">0.008</text>
<text transform="translate(101.9,1064.21) scale(1,1.03)" text-anchor="end" font-size="22.7">0.012</text>
<text transform="translate(101.9,987.07) scale(1,1.03)" text-anchor="end" font-size="22.7">0.016</text>
<text transform="translate(113.60,1318.32) scale(1,1.03)" text-anchor="middle" font-size="22.7">0</text>
<text transform="translate(213.34,1318.32) scale(1,1.03)" text-anchor="middle" font-size="22.7">1000</text>
<text transform="translate(313.08,1318.32) scale(1,1.03)" text-anchor="middle" font-size="22.7">2000</text>
<text transform="translate(412.82,1318.32) scale(1,1.03)" text-anchor="middle" font-size="22.7">3000</text>
<text transform="translate(512.56,1318.32) scale(1,1.03)" text-anchor="middle" font-size="22.7">4000</text>
<text transform="translate(612.30,1318.32) scale(1,1.03)" text-anchor="middle" font-size="22.7">5000</text>
<g clip-path="url(#clipC)">
<path d="M113.60,1288.70 L592.35,1009.16" stroke="#ff0000" stroke-width="1.5" stroke-dasharray="3.5 6.6" fill="none"/>
<path d="M113.60,1288.70 L592.35,1158.37" stroke="#000" stroke-width="1.5" fill="none"/>
<path d="M143.52,1273.66V1281.37M139.62,1273.66H147.42M139.62,1281.37H147.42" stroke="#ff0000" stroke-width="1.45" fill="none"/>
<rect x="140.42" y="1274.42" width="6.2" height="6.2" fill="#fff" stroke="#ff0000" stroke-width="1.3"/>
<path d="M173.44,1243.00V1261.12M169.54,1243.00H177.34M169.54,1261.12H177.34" stroke="#ff0000" stroke-width="1.45" fill="none"/>
<rect x="170.34" y="1248.96" width="6.2" height="6.2" fill="#fff" stroke="#ff0000" stroke-width="1.3"/>
<path d="M203.37,1233.74V1254.95M199.47,1233.74H207.27M199.47,1254.95H207.27" stroke="#ff0000" stroke-width="1.45" fill="none"/>
<rect x="200.27" y="1241.25" width="6.2" height="6.2" fill="#fff" stroke="#ff0000" stroke-width="1.3"/>
<path d="M263.21,1208.48V1234.70M259.31,1208.48H267.11M259.31,1234.70H267.11" stroke="#ff0000" stroke-width="1.45" fill="none"/>
<rect x="260.11" y="1218.49" width="6.2" height="6.2" fill="#fff" stroke="#ff0000" stroke-width="1.3"/>
<path d="M412.82,1067.32V1136.74M408.92,1067.32H416.72M408.92,1136.74H416.72" stroke="#ff0000" stroke-width="1.45" fill="none"/>
<rect x="409.72" y="1098.93" width="6.2" height="6.2" fill="#fff" stroke="#ff0000" stroke-width="1.3"/>
<path d="M592.35,937.34V1077.35M588.45,937.34H596.25M588.45,1077.35H596.25" stroke="#ff0000" stroke-width="1.45" fill="none"/>
<rect x="589.25" y="1004.24" width="6.2" height="6.2" fill="#fff" stroke="#ff0000" stroke-width="1.3"/>
<path d="M143.52,1280.02V1285.81M139.62,1280.02H147.42M139.62,1285.81H147.42" stroke="#000" stroke-width="1.45" fill="none"/>
<rect x="140.07" y="1279.46" width="6.90" height="6.90" fill="#000"/>
<path d="M173.44,1272.50V1280.21M169.54,1272.50H177.34M169.54,1280.21H177.34" stroke="#000" stroke-width="1.45" fill="none"/>
<rect x="169.99" y="1272.91" width="6.90" height="6.90" fill="#000"/>
<path d="M203.37,1264.02V1275.59M199.47,1264.02H207.27M199.47,1275.59H207.27" stroke="#000" stroke-width="1.45" fill="none"/>
<rect x="199.92" y="1266.35" width="6.90" height="6.90" fill="#000"/>
<path d="M263.21,1241.07V1256.50M259.31,1241.07H267.11M259.31,1256.50H267.11" stroke="#000" stroke-width="1.45" fill="none"/>
<rect x="259.76" y="1245.33" width="6.90" height="6.90" fill="#000"/>
<path d="M412.82,1189.00V1254.57M408.92,1189.00H416.72M408.92,1254.57H416.72" stroke="#000" stroke-width="1.45" fill="none"/>
<rect x="409.37" y="1218.33" width="6.90" height="6.90" fill="#000"/>
<path d="M592.35,1115.33V1175.89M588.45,1115.33H596.25M588.45,1175.89H596.25" stroke="#000" stroke-width="1.45" fill="none"/>
<rect x="588.90" y="1142.16" width="6.90" height="6.90" fill="#000"/>
</g>
<rect x="113.6" y="922.3" width="498.70" height="366.40" fill="none" stroke="#000" stroke-width="1.5"/>
<text transform="translate(128.2,956.80) scale(1,1.04)" font-size="29.8">C</text>
<text transform="translate(498.3,1245.7) scale(1,1.02)" font-size="18.3" font-style="italic">E. timida</text>
<text transform="translate(498.0,1269.4) scale(1,1.02)" font-size="18.3" font-style="italic" fill="#ff0000">Acetabularia</text>
<text y="1358" font-size="23.1"><tspan x="264.9">PPFD (µmol m</tspan><tspan x="418.6" y="1347" font-size="12.5">-2</tspan><tspan x="429" y="1358">s</tspan><tspan x="440.6" y="1347" font-size="12.5">-1</tspan><tspan x="452.3" y="1358">)</tspan></text>
<text transform="translate(29.8,1153.3) rotate(-90)" font-size="22.3"><tspan x="0" y="0">k</tspan><tspan x="11.8" y="8.2" font-size="12.5">PI</tspan><tspan x="31.4" y="0">(min</tspan><tspan x="75.2" y="-11.9" font-size="12.3">-1</tspan><tspan x="88.5" y="0">)</tspan></text>
</svg>
</body></html>
